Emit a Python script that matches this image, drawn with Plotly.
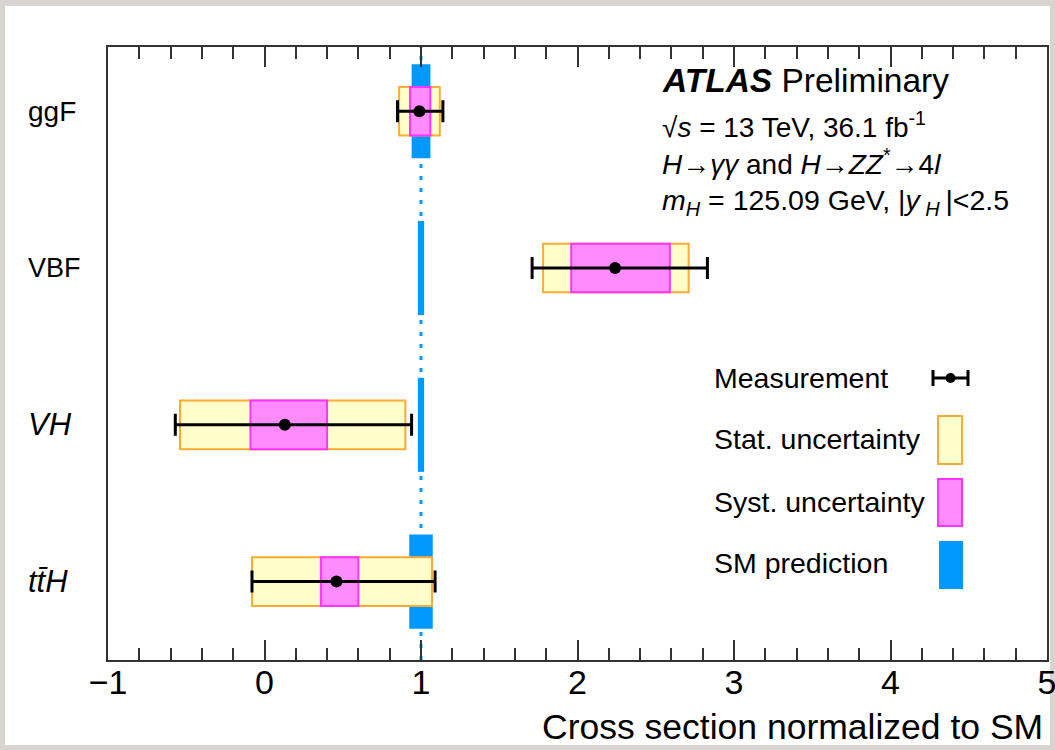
import plotly.graph_objects as go

# Production modes (top to bottom) and their measured cross sections / SM
processes = ["ggF", "VBF", "VH", "ttH"]
category_labels = ["ggF", "VBF", "<i>VH</i>", "<i>tt\u0304H</i>"]
category_sizes = [28, 27, 31, 31]
mu = [0.99, 2.24, 0.13, 0.46]
stat_lo = [0.13, 0.46, 0.67, 0.54]
stat_hi = [0.13, 0.47, 0.77, 0.61]
syst_lo = [0.06, 0.28, 0.22, 0.10]
syst_hi = [0.07, 0.35, 0.27, 0.14]
tot_lo = [0.14, 0.53, 0.70, 0.54]
tot_hi = [0.15, 0.59, 0.81, 0.63]
sm_unc = [0.06, 0.02, 0.02, 0.075]
x_ticks = [-1, 0, 1, 2, 3, 4, 5]

BLUE = "#0099ff"
YELLOW = "#ffffcc"
ORANGE = "#ffaa33"
MAGENTA_FILL = "#ff8cff"
MAGENTA_LINE = "#ff33ff"
FONT = "Liberation Sans, Arial, Helvetica, sans-serif"

W, H = 1055, 750
PL, PR, PT, PB = 108, 1047, 47, 660


def px(x):
    return (x - PL) / (PR - PL)


def py(y):
    return (PB - y) / (PB - PT)


pos = [len(processes) - i for i in range(len(processes))]

fig = go.Figure()

# SM prediction band
fig.add_trace(go.Bar(
    y=pos, x=[2 * u for u in sm_unc], base=[1 - u for u in sm_unc],
    orientation="h", width=0.6,
    marker=dict(color=BLUE, line=dict(width=0)),
    showlegend=False, hoverinfo="skip",
))

# Statistical uncertainty
fig.add_trace(go.Bar(
    y=pos, x=[a + b for a, b in zip(stat_lo, stat_hi)],
    base=[m - a for m, a in zip(mu, stat_lo)],
    orientation="h", width=0.31,
    marker=dict(color=YELLOW, line=dict(color=ORANGE, width=2)),
    showlegend=False, hoverinfo="skip",
))

# Systematic uncertainty
fig.add_trace(go.Bar(
    y=pos, x=[a + b for a, b in zip(syst_lo, syst_hi)],
    base=[m - a for m, a in zip(mu, syst_lo)],
    orientation="h", width=0.31,
    marker=dict(color=MAGENTA_FILL, line=dict(color=MAGENTA_LINE, width=2)),
    showlegend=False, hoverinfo="skip",
))

# Measurement with total uncertainty
fig.add_trace(go.Scatter(
    x=mu, y=pos, mode="markers",
    marker=dict(color="black", size=12),
    error_x=dict(type="data", symmetric=False, array=tot_hi, arrayminus=tot_lo,
                 color="black", thickness=3, width=11),
    showlegend=False,
))

shapes = [
    # white card on the grey backdrop
    dict(type="rect", xref="paper", yref="paper",
         x0=px(5), x1=px(1050), y0=py(745), y1=py(6),
         fillcolor="white", line=dict(width=0), layer="below"),
    # SM reference line
    dict(type="line", xref="x", yref="paper", x0=1, x1=1, y0=0, y1=1,
         line=dict(color=BLUE, width=3, dash="4px,8px"), layer="below"),
]

# Legend keys
lx0, lx1 = 933, 968
ly = 378
shapes += [
    dict(type="line", xref="paper", yref="paper", x0=px(lx0), x1=px(lx1),
         y0=py(ly), y1=py(ly), line=dict(color="black", width=3)),
    dict(type="line", xref="paper", yref="paper", x0=px(lx0), x1=px(lx0),
         y0=py(ly - 8), y1=py(ly + 8), line=dict(color="black", width=3)),
    dict(type="line", xref="paper", yref="paper", x0=px(lx1), x1=px(lx1),
         y0=py(ly - 8), y1=py(ly + 8), line=dict(color="black", width=3)),
    dict(type="circle", xref="paper", yref="paper", x0=px(945.5), x1=px(955.5),
         y0=py(ly + 5), y1=py(ly - 5), fillcolor="black", line=dict(width=0)),
    dict(type="rect", xref="paper", yref="paper", x0=px(938), x1=px(962),
         y0=py(464), y1=py(416), fillcolor=YELLOW, line=dict(color=ORANGE, width=2)),
    dict(type="rect", xref="paper", yref="paper", x0=px(938), x1=px(962),
         y0=py(526), y1=py(479), fillcolor=MAGENTA_FILL,
         line=dict(color=MAGENTA_LINE, width=2)),
    dict(type="rect", xref="paper", yref="paper", x0=px(939), x1=px(963),
         y0=py(589), y1=py(541), fillcolor=BLUE, line=dict(width=0)),
]


def note(text, x, y, size, anchor="left"):
    return dict(text=text, xref="paper", yref="paper", x=px(x), y=py(y),
                xanchor=anchor, yanchor="middle", showarrow=False,
                font=dict(family=FONT, size=size, color="black"))


annotations = [
    note("<b><i>ATLAS</i></b> Preliminary", 660, 80, 33.5),
    note("\u221a<i>s</i> = 13 TeV, 36.1 fb<sup>-1</sup>", 660, 125, 28),
    note("<i>H</i>\u2192<i>\u03b3\u03b3</i> and <i>H</i>\u2192<i>ZZ</i><sup>*</sup>\u21924<i>l</i>",
         660, 162, 28),
    note("<i>m<sub>H</sub></i> = 125.09 GeV, |<i>y</i>\u2009<sub><i>H</i></sub>\u2009|&lt;2.5",
         660, 202, 28.5),
    note("Measurement", 712, 378, 28.5),
    note("Stat. uncertainty", 712, 439, 28.5),
    note("Syst. uncertainty", 712, 502, 28.5),
    note("SM prediction", 712, 563, 28.5),
    note("Cross section normalized to SM", 1045, 727, 35.5, anchor="right"),
]

# Category names placed along the y axis
for p, lab, sz in zip(pos, category_labels, category_sizes):
    annotations.append(dict(
        text=lab, xref="paper", yref="y", x=px(26), y=p,
        xanchor="left", yanchor="middle", showarrow=False,
        font=dict(family=FONT, size=sz, color="black"),
    ))

AX = "#333333"
fig.update_layout(
    width=W, height=H,
    margin=dict(l=PL, r=W - PR, t=PT, b=H - PB, pad=0),
    paper_bgcolor="#d8d5d1", plot_bgcolor="white",
    barmode="overlay",
    showlegend=False,
    font=dict(family=FONT, color="black"),
    shapes=shapes,
    annotations=annotations,
    xaxis=dict(
        range=[-1, 5], tickmode="array", tickvals=x_ticks,
        ticks="inside", ticklen=20, tickwidth=2, tickcolor=AX,
        showline=True, linecolor=AX, linewidth=2, mirror="allticks",
        minor=dict(dtick=0.2, tick0=-1, ticks="inside", ticklen=12,
                   tickwidth=2, tickcolor=AX),
        showgrid=False, zeroline=False, automargin=False,
        ticklabelstandoff=-9, ticklabeloverflow="allow",
        tickfont=dict(family=FONT, size=34, color="black"),
    ),
    yaxis=dict(
        range=[0.5, 4.41], tickvals=pos, showticklabels=False,
        ticks="", showline=True, linecolor=AX, linewidth=2, mirror=True,
        showgrid=False, zeroline=False, automargin=False,
    ),
)

fig.write_html("out.html")
